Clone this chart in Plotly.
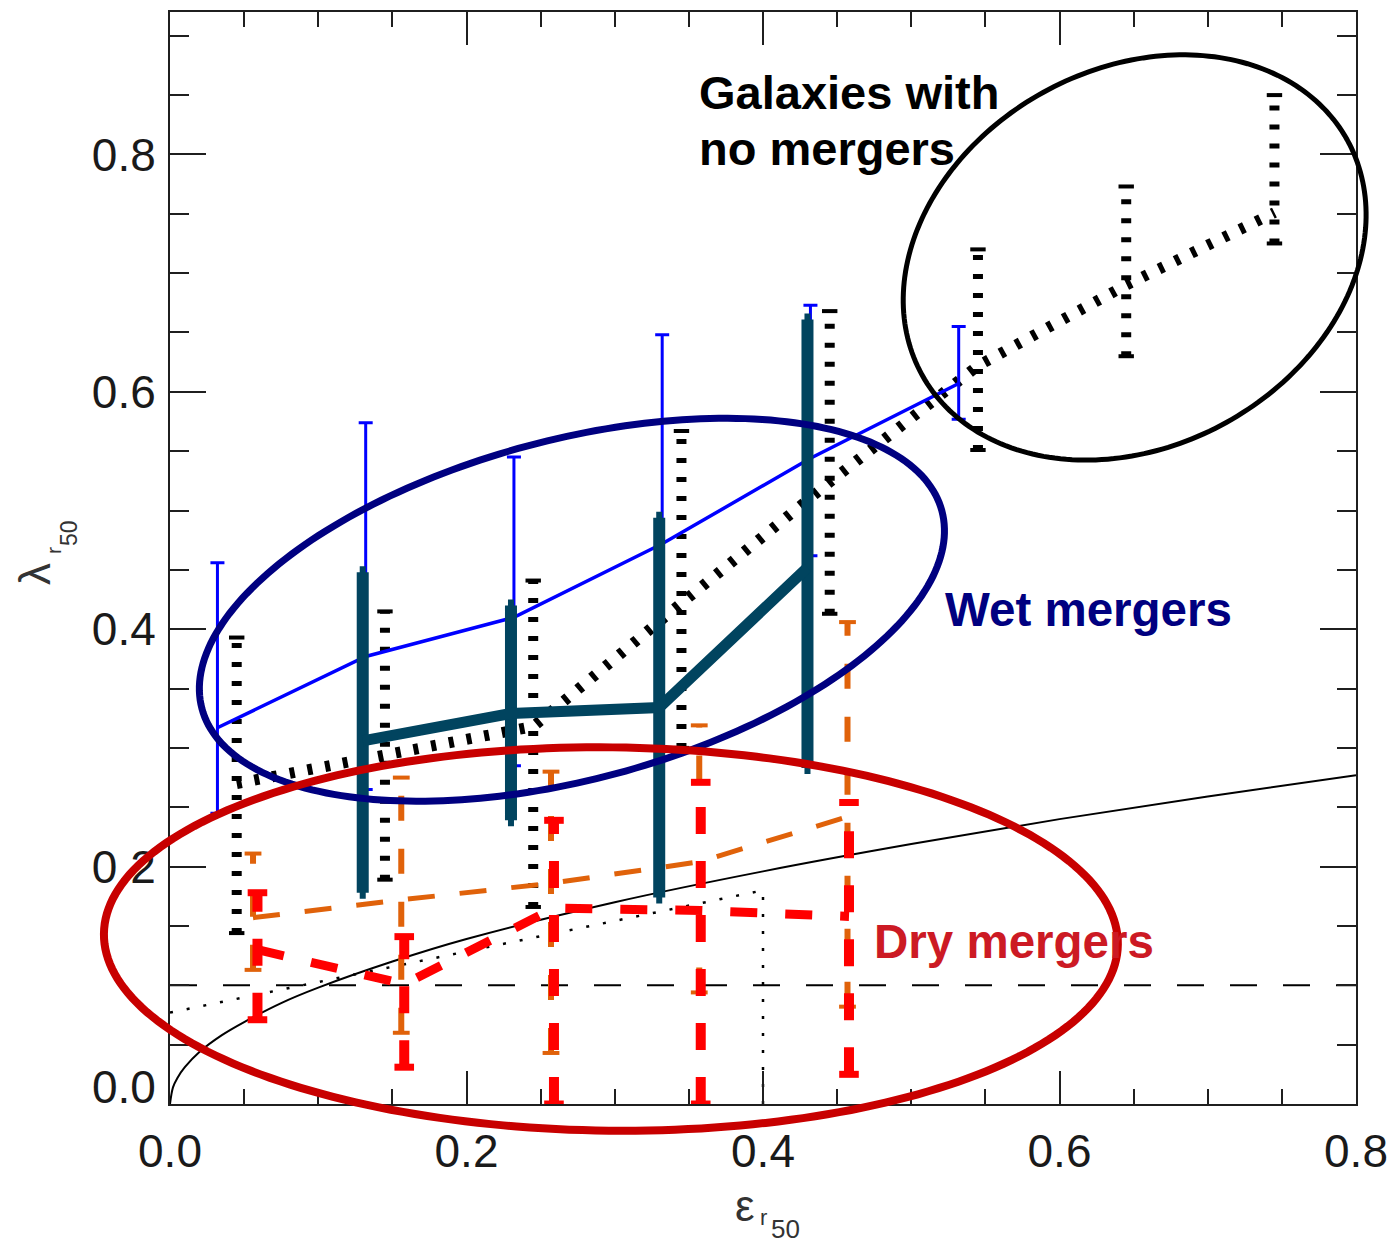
import numpy as np
import plotly.graph_objects as go

# ---------------- data ----------------
# Galaxies with no mergers (black, thick dotted)
eps_none = [0.045, 0.145, 0.245, 0.345, 0.445, 0.545, 0.645, 0.745]
lam_none = [0.270, 0.295, 0.318, 0.422, 0.524, 0.622, 0.690, 0.751]
lo_none = [0.144, 0.189, 0.166, 0.300, 0.413, 0.551, 0.630, 0.725]
hi_none = [0.393, 0.415, 0.441, 0.567, 0.668, 0.720, 0.773, 0.850]

# All mergers (thin blue)
eps_all = [0.032, 0.132, 0.232, 0.332, 0.432, 0.532]
lam_all = [0.317, 0.377, 0.410, 0.472, 0.544, 0.607]
lo_all = [0.245, 0.265, 0.285, 0.300, 0.462, 0.577]
hi_all = [0.456, 0.574, 0.545, 0.648, 0.673, 0.655]

# Wet mergers (thick dark teal)
eps_wet = [0.130, 0.230, 0.330, 0.430]
lam_wet = [0.306, 0.329, 0.334, 0.452]
lo_wet = [0.178, 0.239, 0.174, 0.283]
hi_wet = [0.448, 0.420, 0.494, 0.661]

# Dry mergers, minor (orange dashed)
eps_dry_minor = [0.056, 0.156, 0.257, 0.357, 0.457]
lam_dry_minor = [0.157, 0.172, 0.186, 0.204, 0.242]
lo_dry_minor = [0.113, 0.060, 0.043, 0.094, 0.082]
hi_dry_minor = [0.211, 0.275, 0.280, 0.319, 0.406]

# Dry mergers, major (thick red dashed)
eps_dry_major = [0.059, 0.158, 0.259, 0.358, 0.458]
lam_dry_major = [0.130, 0.101, 0.165, 0.163, 0.158]
lo_dry_major = [0.071, 0.031, 0.0, 0.0, 0.025]
hi_dry_major = [0.178, 0.141, 0.239, 0.271, 0.254]

# Fast/slow rotator boundary lambda = 0.31 sqrt(eps), sampled
eps_bound = [0.0, 0.002, 0.005, 0.01, 0.02, 0.035, 0.05, 0.075, 0.1, 0.15,
             0.2, 0.3, 0.4, 0.5, 0.6, 0.7, 0.8]
lam_bound = [0.0, 0.014, 0.022, 0.031, 0.044, 0.058, 0.069, 0.085, 0.098,
             0.120, 0.139, 0.170, 0.196, 0.219, 0.240, 0.259, 0.277]

# Slow-rotator region (dotted) and lambda = 0.1 threshold (dashed)
eps_slow = [0.0, 0.4, 0.4]
lam_slow = [0.077, 0.180, 0.0]
eps_thresh = [0.0, 0.8]
lam_thresh = [0.1, 0.1]

x_ticks = [0.0, 0.2, 0.4, 0.6, 0.8]
y_ticks = [0.0, 0.2, 0.4, 0.6, 0.8]
y_tick_text = ["", "0.2", "0.4", "0.6", "0.8"]   # 0.0 is placed separately, lifted

# ---------------- layout geometry ----------------
FIG_W, FIG_H = 1399, 1248
M_L, M_R, M_T, M_B = 170, 43, 10, 144
X_MAX, Y_MAX = 0.8, 0.92
PLOT_W = FIG_W - M_L - M_R
PLOT_H = FIG_H - M_T - M_B

FONT = "Liberation Sans, Arial, Helvetica, sans-serif"
AXIS_COL = "#1f1f1f"
TICK_COL = "#1a1a1a"

BLACK = "#000000"
BLUE = "#0000ff"
TEAL = "#01445f"
ORANGE = "#e0620a"
RED = "#ff0000"


def vbars(xs, lo, hi):
    bx, by = [], []
    for x, l, h in zip(xs, lo, hi):
        bx += [x, x, None]
        by += [l, h, None]
    return bx, by


def d2p(eps, lam):
    return eps / X_MAX, lam / Y_MAX


def px2p(xp, yp):
    return (xp - M_L) / PLOT_W, (FIG_H - M_B - yp) / PLOT_H


def ellipse_path(c_eps, c_lam, a_px, b_px, angle_deg, n=240):
    cx, cy = d2p(c_eps, c_lam)
    th = np.deg2rad(angle_deg)
    t = np.linspace(0, 2 * np.pi, n, endpoint=False)
    dx = a_px * np.cos(t) * np.cos(th) - b_px * np.sin(t) * np.sin(th)
    dy = a_px * np.cos(t) * np.sin(th) + b_px * np.sin(t) * np.cos(th)
    xs = cx + dx / PLOT_W
    ys = cy + dy / PLOT_H
    return "M " + " L ".join(f"{x:.5f},{y:.5f}" for x, y in zip(xs, ys)) + " Z"


fig = go.Figure()

# reference curves
fig.add_trace(go.Scatter(x=eps_bound, y=lam_bound, mode="lines", line_shape="spline",
                         line=dict(color=BLACK, width=2)))
fig.add_trace(go.Scatter(x=eps_slow, y=lam_slow, mode="lines",
                         line=dict(color=BLACK, width=2.5, dash="3px,14px")))
fig.add_trace(go.Scatter(x=eps_thresh, y=lam_thresh, mode="lines",
                         line=dict(color=BLACK, width=2, dash="27px,26px")))

# no-merger sample
bx, by = vbars(eps_none, lo_none, hi_none)
fig.add_trace(go.Scatter(x=bx, y=by, mode="lines",
                         line=dict(color=BLACK, width=10, dash="5px,14px")))
fig.add_trace(go.Scatter(x=eps_none + eps_none, y=lo_none + hi_none, mode="markers",
                         marker=dict(symbol="line-ew", size=11,
                                     line=dict(color=BLACK, width=4))))
fig.add_trace(go.Scatter(x=eps_none, y=lam_none, mode="lines",
                         line=dict(color=BLACK, width=11, dash="5px,13px")))

# dry minor mergers (orange)
bx, by = vbars(eps_dry_minor, lo_dry_minor, hi_dry_minor)
fig.add_trace(go.Scatter(x=bx, y=by, mode="lines",
                         line=dict(color=ORANGE, width=6, dash="25px,28px")))
fig.add_trace(go.Scatter(x=eps_dry_minor + eps_dry_minor, y=lo_dry_minor + hi_dry_minor,
                         mode="markers",
                         marker=dict(symbol="line-ew", size=12,
                                     line=dict(color=ORANGE, width=4))))
fig.add_trace(go.Scatter(x=eps_dry_minor, y=lam_dry_minor, mode="lines",
                         line=dict(color=ORANGE, width=5, dash="27px,25px")))

# dry major mergers (red)
bx, by = vbars(eps_dry_major, lo_dry_major, hi_dry_major)
fig.add_trace(go.Scatter(x=bx, y=by, mode="lines",
                         line=dict(color=RED, width=10, dash="27px,27px")))
fig.add_trace(go.Scatter(x=eps_dry_major + eps_dry_major, y=lo_dry_major + hi_dry_major,
                         mode="markers",
                         marker=dict(symbol="line-ew", size=14,
                                     line=dict(color=RED, width=7))))
fig.add_trace(go.Scatter(x=eps_dry_major, y=lam_dry_major, mode="lines",
                         line=dict(color=RED, width=9, dash="27px,28px")))

# all mergers (blue)
fig.add_trace(go.Scatter(
    x=eps_all, y=lam_all, mode="lines", line=dict(color=BLUE, width=3.5),
    error_y=dict(type="data", symmetric=False,
                 array=[h - v for h, v in zip(hi_all, lam_all)],
                 arrayminus=[v - l for v, l in zip(lam_all, lo_all)],
                 color=BLUE, thickness=3, width=7)))

# wet mergers (teal)
fig.add_trace(go.Scatter(
    x=eps_wet, y=lam_wet, mode="lines", line=dict(color=TEAL, width=11),
    error_y=dict(type="data", symmetric=False,
                 array=[h - v for h, v in zip(hi_wet, lam_wet)],
                 arrayminus=[v - l for v, l in zip(lam_wet, lo_wet)],
                 color=TEAL, thickness=12, width=3)))

# highlight ellipses
shapes = [
    dict(type="path", xref="paper", yref="paper", layer="above",
         path=ellipse_path(0.2711, 0.4164, 383, 170, 15),
         line=dict(color="#000080", width=7)),
    dict(type="path", xref="paper", yref="paper", layer="above",
         path=ellipse_path(0.2974, 0.139, 507, 192, -0.6),
         line=dict(color="#c80000", width=8)),
    dict(type="path", xref="paper", yref="paper", layer="above",
         path=ellipse_path(0.6507, 0.7132, 243, 189, 29),
         line=dict(color=BLACK, width=5)),
]

annotations = []


def label(text, eps, lam, color, size=47.5, bold=True, xanchor="left"):
    x, y = d2p(eps, lam)
    annotations.append(dict(
        text=f"<b>{text}</b>" if bold else text, x=x, y=y, xref="paper", yref="paper",
        xanchor=xanchor, yanchor="middle", showarrow=False,
        font=dict(family=FONT, size=size, color=color)))


label("Galaxies with", 0.3555, 0.852, BLACK, size=47)
label("no mergers", 0.3555, 0.805, BLACK, size=47)
label("Wet mergers", 0.5215, 0.417, "#000080")
label("Dry mergers", 0.4735, 0.1365, "#cc1a24")


def title_part(text, xp, yp, size, angle=0, color="#333333"):
    x, y = px2p(xp, yp)
    annotations.append(dict(
        text=text, x=x, y=y, xref="paper", yref="paper", xanchor="center",
        yanchor="middle", showarrow=False, textangle=angle,
        font=dict(family=FONT, size=size, color=color)))


# x-axis title: epsilon_{r_50}
title_part("ε", 745, 1206, 44)
title_part("r", 763, 1218, 22)
title_part("50", 785, 1229, 26)
# y-axis title: lambda_{r_50}
title_part("λ", 35, 573, 44, -90)
title_part("r", 53, 550, 21, -90)
title_part("50", 69, 532, 23, -90)

# lowest y tick label sits slightly above its tick
annotations.append(dict(
    text="0.0", x=0, y=1 - (1087 - M_T) / PLOT_H, xref="paper", yref="paper",
    xanchor="right", yanchor="middle", xshift=-12, showarrow=False,
    font=dict(family=FONT, size=46, color=TICK_COL)))

axis_common = dict(
    showline=True, linewidth=2, linecolor=AXIS_COL, mirror="allticks",
    ticks="inside", tickwidth=2, tickcolor=AXIS_COL, showgrid=False, zeroline=False,
    tickfont=dict(family=FONT, size=46, color=TICK_COL),
)

fig.update_xaxes(range=[0, X_MAX], tickvals=x_ticks,
                 ticktext=[f"{v:.1f}" for v in x_ticks], ticklen=33,
                 ticklabelstandoff=6,
                 minor=dict(ticks="inside", dtick=0.05, ticklen=15, tickwidth=2,
                            tickcolor=AXIS_COL, showgrid=False),
                 **axis_common)
fig.update_yaxes(range=[0, Y_MAX], tickvals=y_ticks, ticktext=y_tick_text, ticklen=36,
                 ticklabelstandoff=3,
                 minor=dict(ticks="inside", dtick=0.05, ticklen=19, tickwidth=2,
                            tickcolor=AXIS_COL, showgrid=False),
                 **axis_common)

fig.update_layout(
    width=FIG_W, height=FIG_H,
    margin=dict(l=M_L, r=M_R, t=M_T, b=M_B, pad=0),
    plot_bgcolor="white", paper_bgcolor="white",
    showlegend=False, shapes=shapes, annotations=annotations,
)

fig.write_html("out.html")
